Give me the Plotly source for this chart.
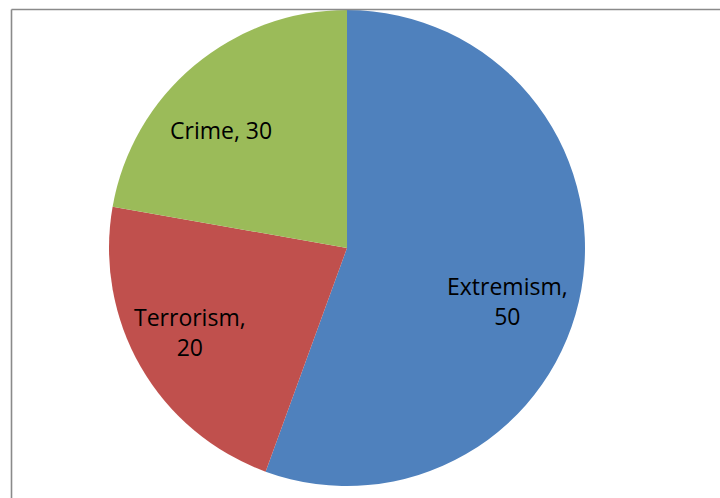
import plotly.graph_objects as go

categories = ["Extremism", "Terrorism", "Crime"]
slice_values = [50, 20, 20]        # slice sizes as drawn
label_values = [50, 20, 30]        # values as printed on labels
colors = ["#4F81BD", "#C0504D", "#9BBB59"]

W, H = 720, 498
cx, cy, r = 347, 248, 238

fig = go.Figure(go.Pie(
    labels=categories,
    values=slice_values,
    sort=False,
    direction="clockwise",
    rotation=0,
    marker=dict(colors=colors, line=dict(width=0)),
    textinfo="none",
    hoverinfo="label+value",
    showlegend=False,
    domain=dict(x=[(cx - r) / W, (cx + r) / W], y=[1 - (cy + r) / H, 1 - (cy - r) / H]),
))

# label texts from data
label_pos = {"Extremism": (507, 301), "Terrorism": (190, 332), "Crime": (221, 130)}
line_break = {"Extremism": True, "Terrorism": True, "Crime": False}
for cat, v in zip(categories, label_values):
    sep = ",<br>" if line_break[cat] else ", "
    x, y = label_pos[cat]
    fig.add_annotation(
        x=x / W, y=1 - y / H, xref="paper", yref="paper",
        text=f"{cat}{sep}{v}", showarrow=False,
        font=dict(family="Open Sans", size=23, color="black"),
        align="center", xanchor="center", yanchor="middle",
    )

# chart-area border (partially visible: top and left edges)
fig.add_shape(type="line", xref="paper", yref="paper",
              x0=11.5 / W, x1=1.0, y0=1 - 9.5 / H, y1=1 - 9.5 / H,
              line=dict(color="#8a8a8a", width=1.6))
fig.add_shape(type="line", xref="paper", yref="paper",
              x0=11.5 / W, x1=11.5 / W, y0=1 - 9.5 / H, y1=0,
              line=dict(color="#8a8a8a", width=1.6))

fig.update_layout(
    width=W, height=H,
    margin=dict(l=0, r=0, t=0, b=0),
    paper_bgcolor="white", plot_bgcolor="white",
)

fig.write_html("out.html", config={"displayModeBar": False},
               post_script="document.body.style.margin='0';")
